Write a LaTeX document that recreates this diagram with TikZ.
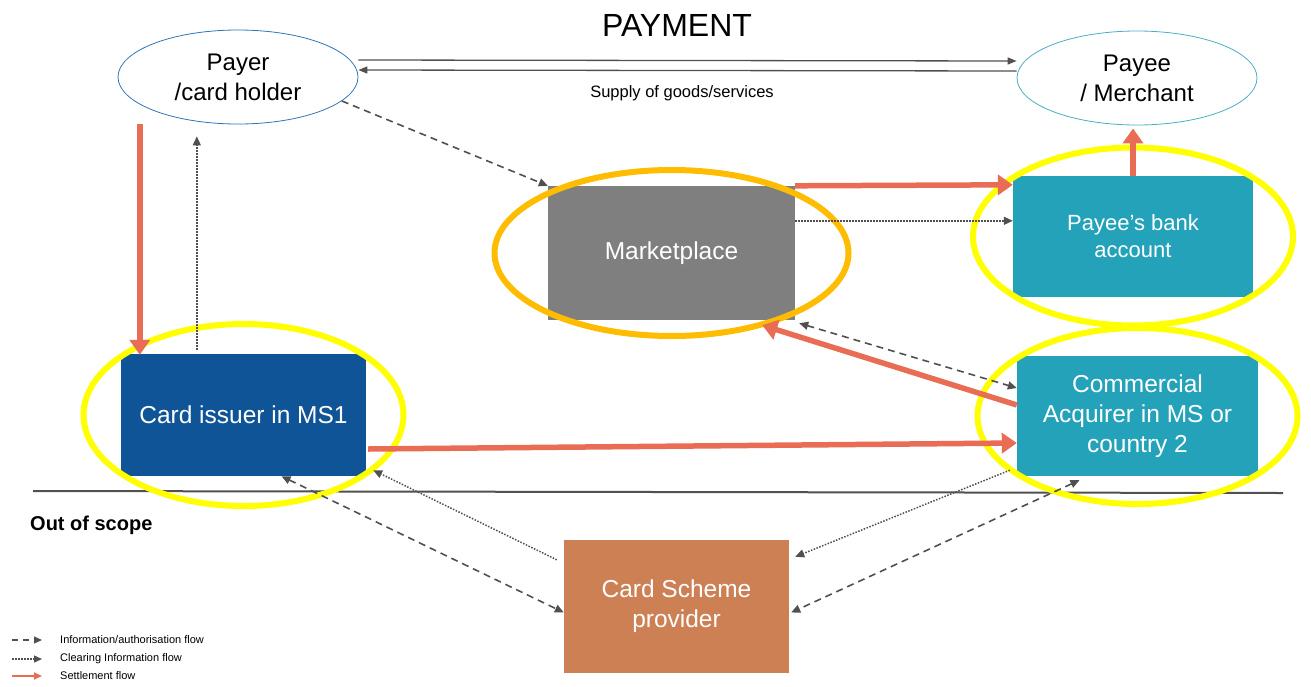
\documentclass[tikz,border=0pt]{standalone}
\usepackage{fontspec}
\setmainfont{Liberation Sans}
\usetikzlibrary{shapes.geometric,arrows.meta}
\definecolor{settle}{RGB}{233,108,84}
\definecolor{flowgray}{RGB}{80,80,80}
\definecolor{payerblue}{RGB}{46,117,182}
\definecolor{payeeteal}{RGB}{75,172,198}
\definecolor{bankteal}{RGB}{35,162,185}
\definecolor{issuerblue}{RGB}{15,84,150}
\definecolor{marketgray}{RGB}{127,127,127}
\definecolor{schemebrown}{RGB}{204,128,84}
\definecolor{ringgold}{RGB}{255,188,0}
\definecolor{ringyellow}{RGB}{255,255,0}
\begin{document}
\begin{tikzpicture}[x=1pt, y=-1pt, line join=round]
  \tikzset{
    party/.style={ellipse, draw, line width=0.8pt, align=center, inner sep=0pt,
      minimum width=240pt, minimum height=94pt, font=\fontsize{24}{30}\selectfont},
    box/.style={rectangle, inner sep=0pt, text=white, align=center,
      font=\fontsize{24.5}{30}\selectfont},
    info/.style={flowgray, line width=1.6pt, dash pattern=on 7pt off 5pt,
      -{Triangle[length=9pt,width=8pt]}},
    infoboth/.style={info, {Triangle[length=9pt,width=8pt]}-{Triangle[length=9pt,width=8pt]}},
    clearing/.style={flowgray, line width=1.5pt, dash pattern=on 1.5pt off 1.5pt,
      -{Triangle[length=9pt,width=8pt]}},
    settlement/.style={settle, line width=5.5pt, -{Triangle[length=15pt,width=20pt]}},
    supply/.style={flowgray, line width=1.3pt, -{Triangle[length=9pt,width=7pt]}},
    ring/.style={line width=6pt},
    legendtext/.style={anchor=west, inner sep=0pt, font=\fontsize{11}{13}\selectfont},
  }
  \useasboundingbox (0,0) rectangle (1311,686);

  % nodes
  \node[font=\fontsize{32}{36}\selectfont] (title) at (677,25) {PAYMENT};
  \node[party, draw=payerblue] (payer) at (238,77) {Payer\\/card holder};
  \node[party, draw=payeeteal] (payee) at (1137,78) {Payee\\/ Merchant};
  \node[font=\fontsize{16.5}{20}\selectfont] (supplytext) at (682,93) {Supply of goods/services};
  \node[box, fill=marketgray, minimum width=247pt, minimum height=134pt] (market) at (671.5,253) {Marketplace};
  \node[box, fill=bankteal, minimum width=240pt, minimum height=121pt, font=\fontsize{22}{27}\selectfont] (bank) at (1133,236.5) {Payee’s bank\\account};
  \node[box, fill=bankteal, minimum width=241pt, minimum height=120pt] (acq) at (1137.5,416) {Commercial\\Acquirer in MS or\\country 2};
  \node[box, fill=issuerblue, minimum width=245pt, minimum height=122pt] (issuer) at (243.5,415) {Card issuer in MS1};
  \node[box, fill=schemebrown, minimum width=225pt, minimum height=133pt] (scheme) at (676.5,606.5) {Card Scheme\\provider};
  \node[anchor=west, inner sep=0pt, font=\bfseries\fontsize{20}{24}\selectfont] (scope) at (30,525) {Out of scope};

  % scope line
  \draw[flowgray, line width=2pt] (33,491) -- (1283,493);

  % highlights
  \draw[ring, ringgold] (market.center) ellipse [x radius=177pt, y radius=83pt];
  \draw[ring, ringyellow] (bank.center) ellipse [x radius=160pt, y radius=89pt];
  \draw[ring, ringyellow] (acq.center) ellipse [x radius=160pt, y radius=88pt];
  \draw[ring, ringyellow] (issuer.center) ellipse [x radius=160pt, y radius=91pt];

  % payment between payer and payee
  \draw[supply] ([yshift=17pt]payer.east) -- ([yshift=17pt]payee.west);
  \draw[supply] ([yshift=7pt]payee.west) -- ([yshift=7pt]payer.east);

  % settlement flows
  \draw[settlement] ([xshift=19pt]issuer.north west |- payer.south) -- ([xshift=19pt,yshift=-1pt]issuer.north west);
  \draw[settlement] (market.north east) -- ([yshift=-9pt]bank.north west);
  \draw[settlement] (bank.north) -- ([yshift=-3pt]bank.north |- payee.south);
  \draw[settlement] ([yshift=11pt]acq.west) -- ([xshift=-33pt,yshift=-5pt]market.south east);
  \draw[settlement] ([xshift=2pt,yshift=-34pt]issuer.east) -- ([yshift=-27pt]acq.west);

  % information / authorisation flows
  \draw[info] (payer.-13) -- (market.north west);
  \draw[infoboth] ([xshift=4pt,yshift=-3pt]market.south east) -- ([yshift=28pt]acq.west);
  \draw[infoboth] ([xshift=38pt]issuer.south) -- ([yshift=-6pt]scheme.west);
  \draw[infoboth] ([xshift=-58pt,yshift=-4pt]acq.south) -- ([xshift=2pt,yshift=-6pt]scheme.east);

  % clearing flows
  \draw[clearing, shorten >=12pt] ([xshift=76pt,yshift=4pt]issuer.north west) -- ([xshift=76pt]issuer.north west |- payer.south);
  \draw[clearing] ([yshift=-35pt]market.north east) -- ([yshift=-35pt]market.north east -| bank.west);
  \draw[clearing] ([xshift=-7pt,yshift=-20pt]scheme.north west) -- ([xshift=7pt,yshift=6pt]issuer.south east);
  \draw[clearing] ([xshift=-7pt,yshift=6pt]acq.south west) -- ([xshift=6pt,yshift=-17pt]scheme.north east);

  % legend
  \coordinate (lega) at (12,640);
  \coordinate (legb) at (12,659);
  \coordinate (legc) at (12,676);
  \draw[info, line width=1.2pt, dash pattern=on 6pt off 5pt, -{Triangle[length=8pt,width=7pt]}] (lega) -- ++(30,0);
  \draw[clearing, line width=1.2pt, -{Triangle[length=8pt,width=7pt]}] (legb) -- ++(30,0);
  \draw[settle, line width=1.8pt, -{Triangle[length=8pt,width=7pt]}] (legc) -- ++(30,0);
  \node[legendtext] (legatext) at (60,640) {Information/authorisation flow};
  \node[legendtext] (legbtext) at (60,659) {Clearing Information flow};
  \node[legendtext] (legctext) at (60,676) {Settlement flow};
\end{tikzpicture}
\end{document}
